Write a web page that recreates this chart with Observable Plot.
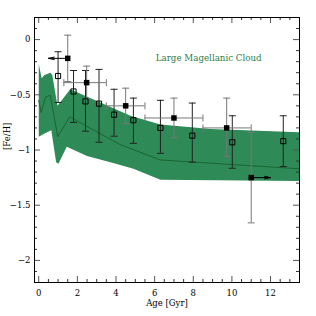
<!DOCTYPE html>
<html>
<head>
<meta charset="utf-8">
<script src="https://cdn.jsdelivr.net/npm/d3@7"></script>
<script src="https://cdn.jsdelivr.net/npm/@observablehq/plot@0.6"></script>
<style>
  html, body { margin: 0; padding: 0; background: white; }
  #chart svg { display: block; }
  #chart svg, #chart svg text { font-family: 'DejaVu Serif', 'Liberation Serif', serif !important; }
</style>
</head>
<body>
<div id="chart"></div>
<script>
// ---- Data ----
// Model band: upper and lower envelopes
const upAge = [0.0, 0.15, 0.3, 0.6, 0.7, 0.97, 1.63, 4.75, 6.3, 8.9, 13.5];
const upFe  = [-0.22, -0.35, -0.32, -0.30, -0.32, -0.60, -0.45, -0.69, -0.77, -0.81, -0.84];
const loAge = [0.0, 0.3, 0.65, 0.9, 1.02, 1.45, 2.5, 3.9, 4.9, 6.3, 13.5];
const loFe  = [-0.88, -0.85, -0.82, -1.11, -1.125, -0.97, -1.055, -1.12, -1.17, -1.27, -1.28];
// Model mean line
const lineAge = [0.0, 0.12, 0.35, 0.6, 0.98, 1.6, 4.2, 6.3, 9.4, 13.5];
const lineFe  = [-0.55, -0.66, -0.52, -0.505, -0.88, -0.70, -0.95, -1.09, -1.125, -1.17];

// Filled squares
const filledAge   = [1.5, 2.48, 4.5, 7.0, 9.73, 11.0];
const filledFe    = [-0.17, -0.39, -0.60, -0.71, -0.80, -1.25];
const filledFeHi  = [0.04, -0.24, -0.44, -0.53, -0.53, -0.84];
const filledFeLo  = [-0.38, -0.54, -0.76, -0.89, -1.06, -1.66];
const filledAgeLo = [null, 1.3, 3.5, 5.5, 8.5, null];
const filledAgeHi = [null, 3.5, 5.5, 8.5, 11.0, null];
// Age limits (arrows) for filled squares
const limitAge  = [1.5, 11.0];
const limitFe   = [-0.17, -1.25];
const limitTo   = [0.5, 12.0];

// Open squares
const openAge  = [1.0, 1.8, 2.42, 3.12, 3.9, 4.9, 6.3, 7.95, 10.02, 12.66];
const openFe   = [-0.33, -0.47, -0.56, -0.58, -0.68, -0.73, -0.80, -0.87, -0.93, -0.92];
const openFeHi = [-0.11, -0.28, -0.28, -0.27, -0.45, -0.53, -0.55, -0.575, -0.69, -0.69];
const openFeLo = [-0.57, -0.75, -0.83, -0.93, -0.875, -0.94, -1.03, -1.11, -1.165, -1.15];

// Ticks and labels
const xMajor = [0, 2, 4, 6, 8, 10, 12];
const yMajor = [0, -0.5, -1, -1.5, -2];
const xLabel = "Age [Gyr]";
const yLabel = "[Fe/H]";
const annotation = "Large Magellanic Cloud";

// ---- Build tables ----
const band = upAge.map((a, i) => ({age: a, fe: upFe[i]}))
  .concat(loAge.map((a, i) => ({age: a, fe: loFe[i]})).reverse());
const mean = lineAge.map((a, i) => ({age: a, fe: lineFe[i]}));
const filled = filledAge.map((a, i) => ({age: a, fe: filledFe[i], hi: filledFeHi[i], lo: filledFeLo[i], aLo: filledAgeLo[i], aHi: filledAgeHi[i]}));
const filledH = filled.filter(d => d.aLo != null);
const limits = limitAge.map((a, i) => ({age: a, fe: limitFe[i], to: limitTo[i]}));
const open = openAge.map((a, i) => ({age: a, fe: openFe[i], hi: openFeHi[i], lo: openFeLo[i]}));

const xMinor = d3.range(0, 13.5, 0.5).filter(v => !xMajor.includes(v));
const yMinor = d3.range(-22, 3).map(v => v / 10).filter(v => !yMajor.some(m => Math.abs(m - v) < 1e-9));

// custom cap symbols
const hCap = {draw(ctx, size) { const r = Math.sqrt(size / Math.PI); ctx.moveTo(-r, 0); ctx.lineTo(r, 0); }};
const vCap = {draw(ctx, size) { const r = Math.sqrt(size / Math.PI); ctx.moveTo(0, -r); ctx.lineTo(0, r); }};

const W = 316, H = 316, mL = 34, mR = 17, mT = 17, mB = 34;
const fw = W - mL - mR, fh = H - mT - mB;
const green = "#2e8b57";
const barFilled = "#777";
const barOpen = "#222";
const serif = "'DejaVu Serif', 'Liberation Serif', serif";

const chart = Plot.plot({
  width: W, height: H,
  marginLeft: mL, marginRight: mR, marginTop: mT, marginBottom: mB,
  x: {domain: [-0.22, 13.5]},
  y: {domain: [-2.2, 0.2]},
  style: {fontFamily: serif, fontSize: "8.5px", background: "white", color: "black"},
  marks: [
    Plot.line(band, {x: "age", y: "fe", fill: green, stroke: "none", curve: "linear", clip: true}),
    Plot.line(mean, {x: "age", y: "fe", stroke: "#1a6530", strokeWidth: 1, clip: true}),
    // open squares error bars
    Plot.ruleX(open, {x: "age", y1: "lo", y2: "hi", stroke: barOpen, strokeWidth: 1}),
    Plot.dot(open, {x: "age", y: "hi", symbol: hCap, r: 3.5, stroke: barOpen, strokeWidth: 1}),
    Plot.dot(open, {x: "age", y: "lo", symbol: hCap, r: 3.5, stroke: barOpen, strokeWidth: 1}),
    // filled squares error bars
    Plot.ruleX(filled, {x: "age", y1: "lo", y2: "hi", stroke: barFilled, strokeWidth: 1}),
    Plot.dot(filled, {x: "age", y: "hi", symbol: hCap, r: 3.5, stroke: barFilled, strokeWidth: 1}),
    Plot.dot(filled, {x: "age", y: "lo", symbol: hCap, r: 3.5, stroke: barFilled, strokeWidth: 1}),
    Plot.ruleY(filledH, {y: "fe", x1: "aLo", x2: "aHi", stroke: barFilled, strokeWidth: 1}),
    Plot.dot(filledH, {x: "aLo", y: "fe", symbol: vCap, r: 3.5, stroke: barFilled, strokeWidth: 1}),
    Plot.dot(filledH, {x: "aHi", y: "fe", symbol: vCap, r: 3.5, stroke: barFilled, strokeWidth: 1}),
    Plot.arrow(limits, {x1: "age", y1: "fe", x2: "to", y2: "fe", stroke: "black", strokeWidth: 1, headLength: 9, headAngle: 24}),
    Plot.dot(open, {x: "age", y: "fe", symbol: "square", r: 2.9, fill: "none", stroke: "black", strokeWidth: 1}),
    Plot.dot(filled, {x: "age", y: "fe", symbol: "square", r: 3.1, fill: "black", stroke: "none"}),
    Plot.text([annotation], {x: 8.8, y: -0.165, fill: "#2b7d4a", fontSize: 8.7, fontFamily: serif, textAnchor: "middle"}),
    // ticks (inward) on all sides
    Plot.tickX(xMajor, {x: d => d, insetTop: fh - 6, stroke: "#555"}),
    Plot.tickX(xMajor, {x: d => d, insetBottom: fh - 6, stroke: "#555"}),
    Plot.tickX(xMinor, {x: d => d, insetTop: fh - 3, stroke: "#333"}),
    Plot.tickX(xMinor, {x: d => d, insetBottom: fh - 3, stroke: "#333"}),
    Plot.tickY(yMajor, {y: d => d, insetRight: fw - 6, stroke: "#555"}),
    Plot.tickY(yMajor, {y: d => d, insetLeft: fw - 6, stroke: "#555"}),
    Plot.tickY(yMinor, {y: d => d, insetRight: fw - 3, stroke: "#333"}),
    Plot.tickY(yMinor, {y: d => d, insetLeft: fw - 3, stroke: "#333"}),
    Plot.axisX({ticks: xMajor, tickSize: 0, tickPadding: 7, label: null, fontFamily: serif, tickFormat: d => String(d)}),
    Plot.axisY({ticks: yMajor, tickSize: 0, tickPadding: 4, label: null, fontFamily: serif, tickFormat: d => d === 0 ? "0" : "\u2212" + String(Math.abs(d))}),
    Plot.text([xLabel], {frameAnchor: "bottom", dy: 23, fontSize: 8.5, fontFamily: serif, fill: "black"}),
    Plot.text([yLabel], {frameAnchor: "left", dx: -27, rotate: -90, fontSize: 8.5, fontFamily: serif, fill: "black"}),
    Plot.frame({stroke: "black", strokeWidth: 1})
  ]
});
document.getElementById("chart").appendChild(chart);
</script>
</body>
</html>
